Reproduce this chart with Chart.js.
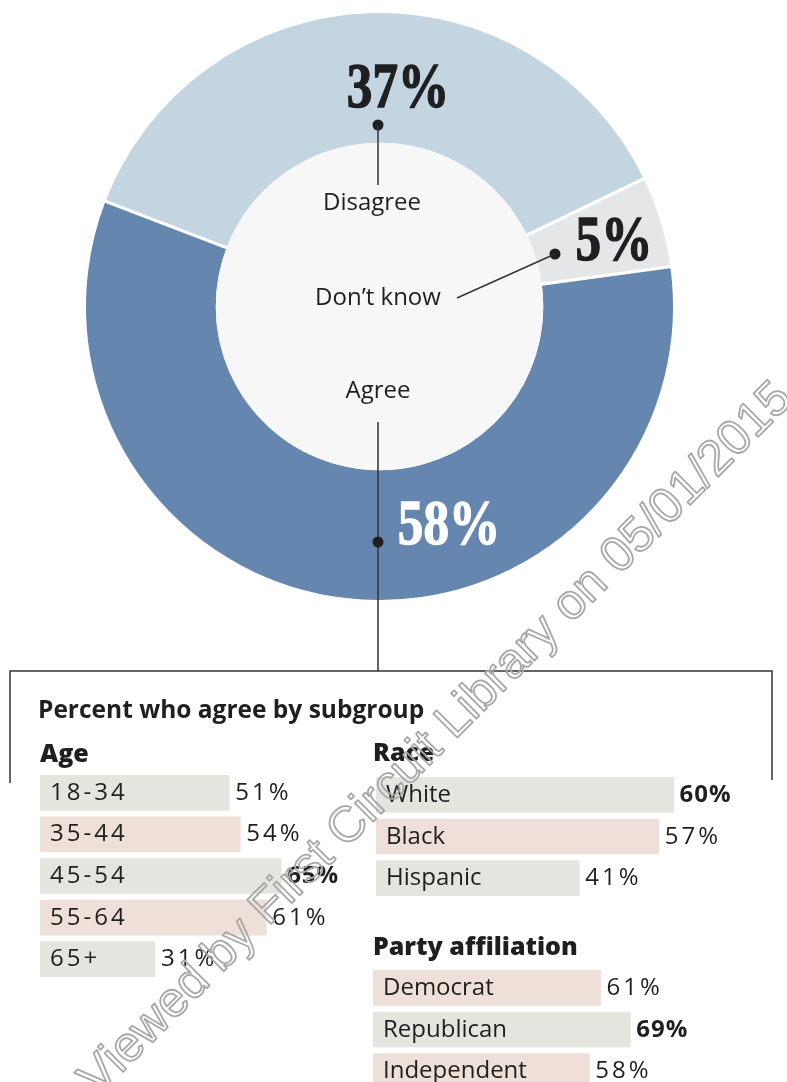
<!DOCTYPE html>
<html>
<head>
<meta charset="utf-8">
<script src="https://cdn.jsdelivr.net/npm/chart.js@4.4.1/dist/chart.umd.min.js"></script>
<style>
  html, body { margin: 0; padding: 0; background: #fff; }
  #page { position: relative; width: 787px; height: 1082px; overflow: hidden; }
  canvas { position: absolute; }
</style>
</head>
<body>
<div id="page">
  <canvas id="donut" width="787" height="1082" style="left:0;top:0"></canvas>
  <canvas id="age" width="330" height="208" style="left:40px;top:772px"></canvas>
  <canvas id="race" width="400" height="125" style="left:376px;top:774px"></canvas>
  <canvas id="party" width="330" height="125" style="left:373px;top:967px"></canvas>
  <canvas id="mark" width="787" height="1082" style="left:0;top:0;pointer-events:none"></canvas>
</div>
<script>
// Respostas gerais
var answerLabels = ['Disagree', 'Don\u2019t know', 'Agree'];
var answerValues = [37, 5, 58];

// Subgrupos
var ageLabels = ['18-34', '35-44', '45-54', '55-64', '65+'];
var ageValues = [51, 54, 65, 61, 31];
var raceLabels = ['White', 'Black', 'Hispanic'];
var raceValues = [60, 57, 41];
var partyLabels = ['Democrat', 'Republican', 'Independent'];
var partyValues = [61, 69, 58];

var GRAY = '#e5e5df';
var PINK = '#eedfd8';
var INK = '#1f1f1f';

function bigNumber(ctx, text, x, y, color) {
    ctx.save();
    ctx.translate(x, y);
    ctx.scale(0.8, 1);
    ctx.font = 'bold 64px "Liberation Serif"';
    ctx.textAlign = 'center';
    ctx.textBaseline = 'alphabetic';
    ctx.fillStyle = color;
    ctx.strokeStyle = color;
    ctx.lineWidth = 1.4;
    ctx.fillText(text, 0, 0);
    ctx.strokeText(text, 0, 0);
    ctx.restore();
}

function dot(ctx, x, y) {
    ctx.beginPath();
    ctx.arc(x, y, 5.5, 0, Math.PI * 2);
    ctx.fill();
}

function line(ctx, x1, y1, x2, y2) {
    ctx.beginPath();
    ctx.moveTo(x1, y1);
    ctx.lineTo(x2, y2);
    ctx.stroke();
}

// Miolo da rosca, chamadas e títulos
var donutNotes = {
    id: 'donutNotes',
    afterDatasetsDraw: function (chart) {
        var ctx = chart.ctx;
        var arc = chart.getDatasetMeta(0).data[0];
        var cx = arc.x, cy = arc.y;
        ctx.save();
        ctx.fillStyle = '#f7f7f7';
        ctx.beginPath();
        ctx.arc(cx, cy, arc.innerRadius + 1.5, 0, Math.PI * 2);
        ctx.fill();

        var vals = chart.data.datasets[0].data;
        var labs = chart.data.labels;

        // Disagree
        bigNumber(ctx, vals[0] + '%', 398, 107, INK);
        ctx.fillStyle = INK;
        ctx.strokeStyle = '#333';
        ctx.lineWidth = 1.5;
        dot(ctx, 378, 125);
        line(ctx, 378, 125, 378, 185);

        // Don't know
        bigNumber(ctx, vals[1] + '%', 614, 260, INK);
        ctx.fillStyle = INK;
        ctx.strokeStyle = '#333';
        ctx.lineWidth = 1.5;
        dot(ctx, 555, 254);
        line(ctx, 555, 254, 457, 298);

        // Agree
        line(ctx, 378, 422, 378, 671);
        dot(ctx, 378, 542);
        bigNumber(ctx, vals[2] + '%', 449, 544, '#ffffff');

        ctx.fillStyle = INK;
        ctx.font = '24px "Open Sans"';
        ctx.textAlign = 'center';
        ctx.fillText(labs[0], 372, 210);
        ctx.fillText(labs[1], 378, 305);
        ctx.fillText(labs[2], 378, 398);

        // Colchete
        ctx.strokeStyle = '#333';
        ctx.lineWidth = 1.5;
        ctx.beginPath();
        ctx.moveTo(10, 783);
        ctx.lineTo(10, 671);
        ctx.lineTo(772, 671);
        ctx.lineTo(772, 780);
        ctx.stroke();

        // Títulos
        ctx.textAlign = 'left';
        ctx.fillStyle = INK;
        ctx.font = 'bold 24.5px "Open Sans"';
        ctx.fillText('Percent who agree by subgroup', 38, 718);
        ctx.font = '800 25px "Open Sans"';
        ctx.fillText('Age', 40, 762);
        ctx.fillText('Race', 373, 761);
        ctx.fillText('Party affiliation', 373, 955);
        ctx.restore();
    }
};

new Chart(document.getElementById('donut'), {
    type: 'doughnut',
    data: {
        labels: answerLabels,
        datasets: [{
            data: answerValues,
            backgroundColor: ['#c3d5e0', '#e4e6e7', '#6586ae'],
            borderColor: '#ffffff',
            borderWidth: 3
        }]
    },
    options: {
        responsive: false,
        animation: false,
        rotation: 291,
        cutout: '55%',
        layout: { padding: { left: 83, top: 10, right: 111, bottom: 479 } },
        plugins: { legend: { display: false }, tooltip: { enabled: false } }
    },
    plugins: [donutNotes]
});

// Rótulos dentro das barras e valores à direita
var barLabels = {
    id: 'barLabels',
    afterDatasetsDraw: function (chart) {
        var ctx = chart.ctx;
        var values = chart.data.datasets[0].data;
        var labels = chart.data.labels;
        var top = Math.max.apply(null, values);
        ctx.save();
        ctx.fillStyle = INK;
        ctx.textAlign = 'left';
        ctx.textBaseline = 'alphabetic';
        chart.getDatasetMeta(0).data.forEach(function (bar, i) {
            var numeric = /^[0-9]/.test(labels[i]);
            ctx.font = '24px "Open Sans"';
            ctx.letterSpacing = numeric ? '3px' : '0px';
            ctx.fillText(labels[i], bar.base + 10, bar.y + 7);
            ctx.font = (values[i] === top ? 'bold ' : '') + '24px "Open Sans"';
            ctx.letterSpacing = values[i] === top ? '1px' : '3px';
            ctx.fillText(values[i] + '%', bar.x + 6, bar.y + 7);
        });
        ctx.restore();
    }
};

function barChart(id, labels, values, colors, max) {
    return new Chart(document.getElementById(id), {
        type: 'bar',
        data: {
            labels: labels,
            datasets: [{
                data: values,
                backgroundColor: colors,
                barThickness: 35
            }]
        },
        options: {
            indexAxis: 'y',
            responsive: false,
            animation: false,
            scales: {
                x: { display: false, min: 0, max: max },
                y: { display: false }
            },
            plugins: { legend: { display: false }, tooltip: { enabled: false } }
        },
        plugins: [barLabels]
    });
}

barChart('age', ageLabels, ageValues, [GRAY, PINK, GRAY, PINK, GRAY], 330 / 3.71);
barChart('race', raceLabels, raceValues, [GRAY, PINK, GRAY], 400 / 4.96);
barChart('party', partyLabels, partyValues, [PINK, GRAY, PINK], 330 / 3.73);

// Marca d'água
var mark = document.getElementById('mark').getContext('2d');
var markText = 'Viewed by First Circuit Library on 05/01/2015';
mark.font = '46px "Liberation Sans"';
var size = 46 * 985 / mark.measureText(markText).width;
mark.font = size + 'px "Liberation Sans"';
mark.translate(98, 1097);
mark.rotate(-Math.PI / 4);
mark.lineJoin = 'round';
mark.strokeStyle = '#a8a8a8';
mark.lineWidth = 1.8;
mark.strokeText(markText, 0, 0);
</script>
</body>
</html>
